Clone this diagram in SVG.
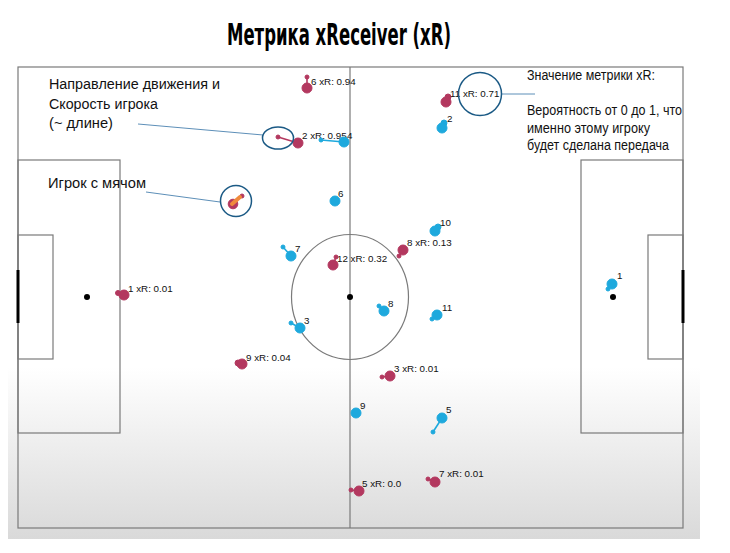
<svg xmlns="http://www.w3.org/2000/svg" width="730" height="553" viewBox="0 0 730 553">
<defs>
<linearGradient id="bg" x1="0" y1="60" x2="0" y2="540" gradientUnits="userSpaceOnUse">
<stop offset="0" stop-color="#ffffff"/>
<stop offset="0.64" stop-color="#ffffff"/>
<stop offset="1" stop-color="#d9d9d9"/>
</linearGradient>
<style>
.pitch{fill:none;stroke:#7a7a7a;stroke-width:1.2}
.goal{stroke:#000;stroke-width:3}
.red{fill:#b3385f;stroke:#b3385f}
.blue{fill:#1ea9dd;stroke:#1ea9dd}
.tail{stroke-width:1.6}
.lbl{font-family:"Liberation Sans",Arial,sans-serif;font-size:9.8px;fill:#111}
.ann{font-family:"Liberation Sans",Arial,sans-serif;font-size:15.5px;fill:#111}
.ann2{font-family:"Liberation Sans",Arial,sans-serif;font-size:14px;fill:#111}
.ring{fill:none;stroke:#1b5a85;stroke-width:1.5}
.lead{stroke:#5d8fb8;stroke-width:1;fill:none}
</style>
</defs>
<rect x="0" y="0" width="730" height="553" fill="#ffffff"/>
<rect x="8" y="60" width="692" height="479" fill="url(#bg)"/>
<text x="227" y="45" font-family="'Liberation Sans Narrow','DejaVu Sans Condensed',sans-serif" font-weight="bold" font-size="30" textLength="224" lengthAdjust="spacingAndGlyphs" fill="#000">Метрика xReceiver (xR)</text>
<g id="pitch">
<rect class="pitch" x="18" y="67" width="665" height="461"/>
<line class="pitch" x1="350" y1="67" x2="350" y2="528"/>
<ellipse class="pitch" cx="350" cy="297" rx="58.5" ry="62.5"/>
<circle cx="350" cy="297" r="3" fill="#000"/>
<rect class="pitch" x="18" y="160" width="102" height="273"/>
<rect class="pitch" x="18" y="235" width="35" height="124"/>
<rect class="pitch" x="581" y="160" width="102" height="273"/>
<rect class="pitch" x="648" y="235" width="35" height="124"/>
<line class="goal" x1="18" y1="270" x2="18" y2="323"/>
<line class="goal" x1="683" y1="270" x2="683" y2="323"/>
<circle cx="87" cy="297" r="3" fill="#000"/>
<circle cx="613" cy="297" r="3" fill="#000"/>
</g>
<g id="connectors">
<line class="lead" x1="138" y1="124" x2="263" y2="135"/>
<line class="lead" x1="146" y1="192" x2="220" y2="202"/>
<line class="lead" x1="502" y1="94" x2="535" y2="94"/>
</g>
<g id="red-ball">
<line class="red tail" x1="233" y1="203" x2="242" y2="196"/>
<circle class="red" cx="242" cy="196" r="2"/>
<circle class="red" cx="233" cy="204" r="4.8"/>
<line x1="232" y1="204" x2="240" y2="197" stroke="#f08a3c" stroke-width="4" stroke-linecap="round"/>
</g>
<g id="red-6"><line class="red tail" x1="307" y1="88" x2="307" y2="77"/><circle class="red" cx="307" cy="77" r="2"/><circle class="red" cx="307" cy="88" r="5"/><text class="lbl" x="311" y="85">6 xR: 0.94</text></g>
<g id="red-2"><line class="red tail" x1="298" y1="143" x2="278" y2="137"/><circle class="red" cx="278" cy="137" r="2"/><circle class="red" cx="298" cy="143" r="5"/><text class="lbl" x="302" y="139">2 xR: 0.95</text></g>
<g id="red-11"><line class="red tail" x1="446" y1="102" x2="448" y2="97"/><circle class="red" cx="448" cy="97" r="3"/><circle class="red" cx="446" cy="102" r="5"/><text class="lbl" x="450" y="97">11 xR: 0.71</text></g>
<g id="red-12"><line class="red tail" x1="333" y1="265" x2="336" y2="257"/><circle class="red" cx="336" cy="257" r="2"/><circle class="red" cx="333" cy="265" r="5"/><text class="lbl" x="337" y="262">12 xR: 0.32</text></g>
<g id="red-8"><line class="red tail" x1="403" y1="250" x2="399" y2="256"/><circle class="red" cx="399" cy="256" r="2"/><circle class="red" cx="403" cy="250" r="5"/><text class="lbl" x="407" y="246">8 xR: 0.13</text></g>
<g id="red-1"><line class="red tail" x1="124" y1="295" x2="118" y2="293"/><circle class="red" cx="118" cy="293" r="2.5"/><circle class="red" cx="124" cy="295" r="5"/><text class="lbl" x="128" y="292">1 xR: 0.01</text></g>
<g id="red-9"><line class="red tail" x1="242" y1="364" x2="238" y2="363"/><circle class="red" cx="238" cy="363" r="3"/><circle class="red" cx="242" cy="364" r="5"/><text class="lbl" x="246" y="361">9 xR: 0.04</text></g>
<g id="red-3"><line class="red tail" x1="390" y1="376" x2="382" y2="377"/><circle class="red" cx="382" cy="377" r="2"/><circle class="red" cx="390" cy="376" r="5"/><text class="lbl" x="394" y="372">3 xR: 0.01</text></g>
<g id="red-5"><line class="red tail" x1="359" y1="491" x2="351" y2="490"/><circle class="red" cx="351" cy="490" r="2"/><circle class="red" cx="359" cy="491" r="5"/><text class="lbl" x="362" y="487">5 xR: 0.0</text></g>
<g id="red-7"><line class="red tail" x1="435" y1="482" x2="428" y2="479"/><circle class="red" cx="428" cy="479" r="2"/><circle class="red" cx="435" cy="482" r="5"/><text class="lbl" x="439" y="477">7 xR: 0.01</text></g>
<g id="blue-4"><line class="blue tail" x1="344" y1="142" x2="321" y2="140"/><circle class="blue" cx="321" cy="140" r="2"/><circle class="blue" cx="344" cy="142" r="5"/><text class="lbl" x="347" y="139">4</text></g>
<g id="blue-2"><line class="blue tail" x1="442" y1="128" x2="444" y2="123"/><circle class="blue" cx="444" cy="123" r="3"/><circle class="blue" cx="442" cy="128" r="5"/><text class="lbl" x="447" y="122">2</text></g>
<g id="blue-6"><circle class="blue" cx="335" cy="201" r="5"/><text class="lbl" x="338" y="197">6</text></g>
<g id="blue-10"><line class="blue tail" x1="435" y1="231" x2="438" y2="227"/><circle class="blue" cx="438" cy="227" r="3"/><circle class="blue" cx="435" cy="231" r="5"/><text class="lbl" x="440" y="226">10</text></g>
<g id="blue-7"><line class="blue tail" x1="291" y1="256" x2="283" y2="247"/><circle class="blue" cx="283" cy="247" r="2"/><circle class="blue" cx="291" cy="256" r="5"/><text class="lbl" x="295" y="252">7</text></g>
<g id="blue-8"><line class="blue tail" x1="384" y1="311" x2="379" y2="306"/><circle class="blue" cx="379" cy="306" r="2"/><circle class="blue" cx="384" cy="311" r="5"/><text class="lbl" x="388" y="307">8</text></g>
<g id="blue-11"><line class="blue tail" x1="437" y1="315" x2="432" y2="319"/><circle class="blue" cx="432" cy="319" r="2"/><circle class="blue" cx="437" cy="315" r="5"/><text class="lbl" x="442" y="311">11</text></g>
<g id="blue-3"><line class="blue tail" x1="300" y1="328" x2="291" y2="323"/><circle class="blue" cx="291" cy="323" r="2"/><circle class="blue" cx="300" cy="328" r="5"/><text class="lbl" x="304" y="324">3</text></g>
<g id="blue-9"><circle class="blue" cx="356" cy="413" r="5"/><text class="lbl" x="360" y="409">9</text></g>
<g id="blue-5"><line class="blue tail" x1="442" y1="418" x2="433" y2="432"/><circle class="blue" cx="433" cy="432" r="2"/><circle class="blue" cx="442" cy="418" r="5"/><text class="lbl" x="446" y="413">5</text></g>
<g id="blue-1"><line class="blue tail" x1="612" y1="284" x2="608" y2="289"/><circle class="blue" cx="608" cy="289" r="2"/><circle class="blue" cx="612" cy="284" r="5"/><text class="lbl" x="617" y="279">1</text></g>
<g id="annotation-velocity">
<ellipse class="ring" cx="278" cy="138" rx="15.5" ry="11"/>
<text class="ann" x="49" y="89" textLength="171" lengthAdjust="spacingAndGlyphs">Направление движения и</text>
<text class="ann" x="49" y="109" textLength="109" lengthAdjust="spacingAndGlyphs">Скорость игрока</text>
<text class="ann" x="49" y="128" textLength="64" lengthAdjust="spacingAndGlyphs">(~ длине)</text>
</g>
<g id="annotation-ball">
<circle class="ring" cx="236" cy="201" r="15.5"/>
<text class="ann" x="48" y="188" textLength="98" lengthAdjust="spacingAndGlyphs">Игрок с мячом</text>
</g>
<g id="annotation-xr">
<circle class="ring" cx="480" cy="94" r="21.5"/>
<text class="ann2" x="527" y="80" textLength="128" lengthAdjust="spacingAndGlyphs">Значение метрики xR:</text>
<text class="ann2" x="527" y="115" textLength="155" lengthAdjust="spacingAndGlyphs">Вероятность от 0 до 1, что</text>
<text class="ann2" x="527" y="133" textLength="123" lengthAdjust="spacingAndGlyphs">именно этому игроку</text>
<text class="ann2" x="527" y="150" textLength="142" lengthAdjust="spacingAndGlyphs">будет сделана передача</text>
</g>
</svg>
